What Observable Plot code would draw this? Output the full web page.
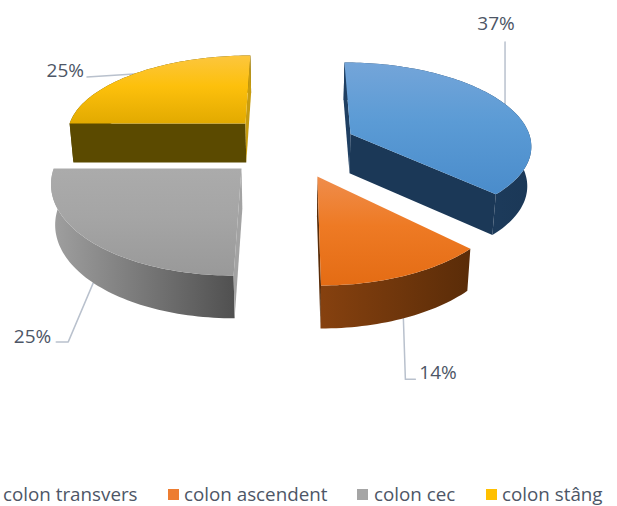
<!DOCTYPE html>
<html><head><meta charset="utf-8">
<script src="https://cdn.jsdelivr.net/npm/d3@7"></script>
<script src="https://cdn.jsdelivr.net/npm/@observablehq/plot@0.6"></script>
<style>
html,body{margin:0;padding:0;background:#fff;overflow:hidden}
#legend{position:relative;width:617px;height:36px;font:18.8px "Open Sans",sans-serif;color:#4d5666}
#legend span{position:absolute;white-space:nowrap;line-height:24px;top:12px}
#legend i{position:absolute;top:19px;width:10.5px;height:10.5px}
</style></head><body>
<div id="chart"></div><div id="legend"></div>
<script>
const categories = ["colon transvers","colon ascendent","colon cec","colon stâng"];
const values = [37.2,12.8,25,25];
const labels = ["37%","14%","25%","25%"];
const topLight = ["#74a5d9","#ef8d4c","#ababab","#fcc63e"];
const topMid = ["#5b9bd5","#ee7a24","#a5a5a5","#fdc00c"];
const topDark = ["#4a8ccb","#e46c14","#999999","#e2aa00"];
const swatch = ["#5b9bd5","#ed7d31","#a5a5a5","#ffc000"];
const wallLeft = ["#214468","#86410f","#a0a0a0","#5b4a00"];
const wallRight = ["#1b3857","#5a2c08","#505050","#5b4a00"];
const sliver = ["#1f3f62","#5a2c08","#a3a3a3","#c79c10"];

// layout of the exploded 3-D view
const W=617,H=470;
const vx=293,vy=-540,base=690,R=183;
const apex=[{X:58.4,v:.0246,rv:.1216},{X:23,v:-.0363,rv:.1273},
            {X:-50.7,v:-.0254,rv:.128},{X:-50,v:.0407,rv:.119}];
const proj=(X,v)=>{const w=1+v;return [vx+X/w,vy+base/w];};
const down=([x,y])=>[vx+(x-vx)*.983,y+39+(y-123)*.025];
const total=d3.sum(values);
let acc=0;
const slices=values.map((val,i)=>{const a0=acc/total*2*Math.PI;acc+=val;const a1=acc/total*2*Math.PI;return {i,val,a0,a1};});
const rim=(s,a)=>{const p=apex[s.i];return proj(p.X+R*Math.sin(a),p.v+p.rv*Math.cos(a));};
const arcPts=(s,a0,a1)=>{const n=Math.max(2,Math.ceil((a1-a0)*40));return d3.range(n+1).map(k=>rim(s,a0+(a1-a0)*k/n));};
const rows=p=>p.map(([x,y])=>({x,y}));
const poly=(p,fill)=>Plot.line(rows(p),{x:"x",y:"y",fill,stroke:"none",curve:"linear"});

const defs=()=>{
  const d=d3.create("svg:defs");
  values.forEach((_,i)=>{
    const t=d.append("linearGradient").attr("id","top"+i).attr("x1",0).attr("x2",0).attr("y1",0).attr("y2",1);
    t.append("stop").attr("offset","0").attr("stop-color",topLight[i]);
    t.append("stop").attr("offset","0.45").attr("stop-color",topMid[i]);
    t.append("stop").attr("offset","1").attr("stop-color",topDark[i]);
    const g=d.append("linearGradient").attr("id","wall"+i);
    g.append("stop").attr("offset","0").attr("stop-color",wallLeft[i]);
    g.append("stop").attr("offset","1").attr("stop-color",wallRight[i]);
  });
  return d.node();
};

const marks=[defs];
// leader lines and labels, anchored to each slice's rim at its mid-angle
const labelOffsets=[
  {bottom:false,path:[[0,-62]],tx:-9,ty:-80,anchor:"middle"},
  {bottom:true,path:[[2,61],[12,61]],tx:16,ty:55,anchor:"start"},
  {bottom:true,path:[[-25,59],[-37,59]],tx:-42,ty:54,anchor:"end"},
  {bottom:false,path:[[-47,3]],tx:-50,ty:-3,anchor:"end"}
];
slices.forEach(s=>{
  const o=labelOffsets[s.i];
  let p=rim(s,(s.a0+s.a1)/2);
  if(o.bottom)p=down(p);
  const pts=[p,...o.path.map(([dx,dy])=>[p[0]+dx,p[1]+dy])];
  marks.push(Plot.line(rows(pts),{x:"x",y:"y",stroke:"#b9c1cd",strokeWidth:1.5,curve:"linear"}));
  marks.push(Plot.text([s],{x:()=>p[0]+o.tx,y:()=>p[1]+o.ty,text:d=>labels[d.i],fontSize:19,fill:"#4d5666",textAnchor:o.anchor,fontFamily:"Open Sans"}));
});
// slices: outer wall first, then the radial faces, then the top face
slices.forEach(s=>{
  const i=s.i, c=proj(apex[i].X,apex[i].v);
  const A=rim(s,s.a0), B=rim(s,s.a1);
  const arc=arcPts(s,s.a0,s.a1);
  marks.push(poly([...arc,...arc.map(down).reverse()],`url(#wall${i})`));
  // blue and yellow show one broad radial face; the others only a sliver
  const broad=i===0?B:i===3?A:null;
  const narrow=i===0?A:i===1?B:i===2?A:B;
  if(broad) marks.push(poly([c,broad,down(broad),down(c)],wallRight[i]));
  marks.push(poly([c,narrow,down(narrow),down(c)],sliver[i]));
  marks.push(poly([c,...arc],`url(#top${i})`));
});
const plot=Plot.plot({width:W,height:H,margin:0,
  x:{domain:[0,W],range:[0,W],axis:null},y:{domain:[0,H],range:[0,H],axis:null},
  style:{background:"#fff",overflow:"visible"},marks});
document.getElementById("chart").appendChild(plot);
plot.style.display="block";

const legend=document.getElementById("legend");
const legendX=[{t:3},{s:168,t:184},{s:357,t:374},{s:486,t:502}];
categories.forEach((c,i)=>{
  const l=legendX[i];
  if(l.s!==undefined){const sw=document.createElement("i");sw.style.left=l.s+"px";sw.style.background=swatch[i];legend.appendChild(sw);}
  const sp=document.createElement("span");sp.style.left=l.t+"px";sp.textContent=c;legend.appendChild(sp);
});
</script></body></html>
